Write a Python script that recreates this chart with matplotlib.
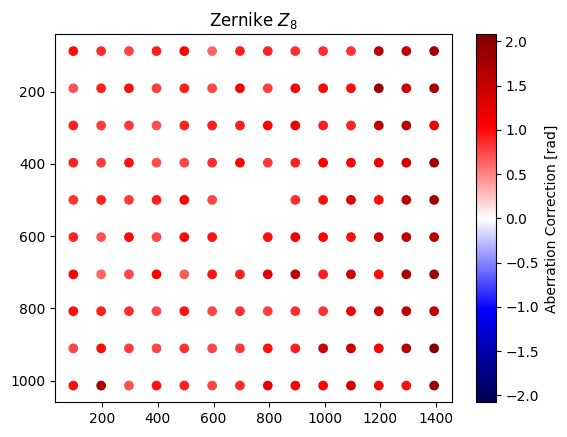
import numpy as np
import matplotlib
matplotlib.use("Agg")
import matplotlib.pyplot as plt

# grid positions (pixels on the device)
x_cols = [96, 196, 296, 395, 495, 595, 695, 795, 894, 994, 1094, 1194, 1293, 1393]
y_rows = [88, 191, 294, 397, 500, 603, 706, 808, 911, 1014]

# correction per spot [rad], rows top to bottom, nan = no spot
corr = [
    [1.00, 0.85, 0.75, 0.92, 1.05, 0.62, 0.92, 0.90, 0.85, 0.85, 0.83, 1.60, 1.60, 1.85],
    [0.70, 0.92, 0.98, 0.78, 0.92, 0.76, 1.10, 0.78, 1.05, 1.02, 1.00, 1.90, 1.45, 1.75],
    [0.92, 0.78, 0.80, 0.70, 0.92, 0.92, 0.92, 1.05, 1.15, 0.92, 0.90, 1.55, 1.65, 1.20],
    [0.90, 0.78, 0.96, 0.72, 0.75, 0.85, 1.07, 0.80, 0.90, 1.05, 1.10, 1.20, 1.40, 1.85],
    [0.83, 0.92, 0.80, 0.92, 1.07, 0.75, np.nan, np.nan, 0.85, 0.98, 1.30, 1.00, 1.60, 1.85],
    [0.90, 0.70, 1.00, 0.75, 1.02, 0.96, np.nan, 0.98, 1.15, 1.03, 1.00, 1.45, 1.60, 1.60],
    [1.03, 0.62, 0.75, 1.05, 0.67, 0.96, 0.92, 1.30, 1.60, 0.92, 1.45, 1.00, 1.75, 1.85],
    [0.98, 0.92, 0.85, 0.76, 0.96, 0.76, 0.83, 0.78, 0.85, 0.83, 1.15, 1.45, 1.60, 1.60],
    [0.76, 1.00, 0.80, 0.76, 0.83, 0.76, 0.80, 0.96, 0.92, 1.45, 1.45, 1.05, 1.60, 2.05],
    [0.96, 1.75, 0.70, 0.96, 0.92, 0.76, 0.85, 1.25, 1.03, 1.03, 1.40, 1.03, 0.98, 1.85],
]

xx, yy = np.meshgrid(x_cols, y_rows)
vals = np.array(corr)
ok = ~np.isnan(vals)
vlim = 2.08

fig = plt.figure(figsize=(5.67, 4.37), dpi=100)
ax = fig.add_axes([0.0975, 0.0794, 0.700, 0.842])
cax = fig.add_axes([0.8395, 0.0794, 0.0347, 0.842])

sc = ax.scatter(xx[ok], yy[ok], c=vals[ok], cmap='seismic', vmin=-vlim, vmax=vlim)
ax.invert_yaxis()
ax.set_title('Zernike $Z_8$')

cb = fig.colorbar(sc, cax=cax)
cb.set_label('Aberration Correction [rad]')

fig.savefig('out.png', dpi=100)
